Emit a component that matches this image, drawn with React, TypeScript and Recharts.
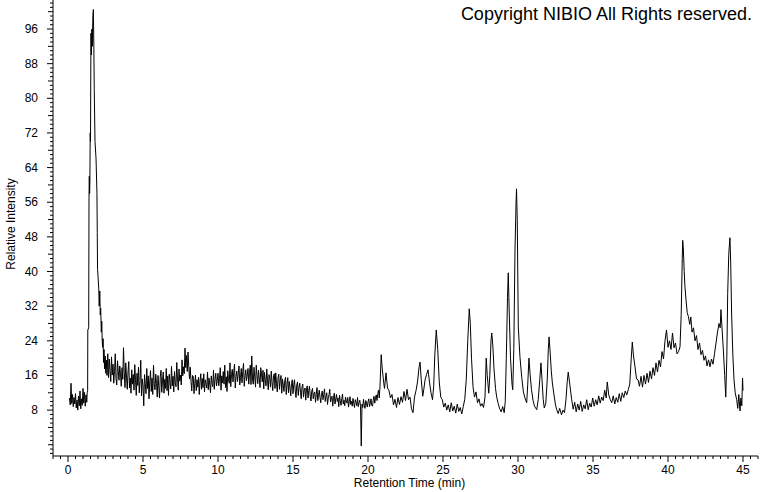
import { LineChart, Line, XAxis, YAxis } from 'recharts'

// retention time (min), relative intensity
const preInjection: [number, number][] = [
  [0.1, 10.8], [0.15, 9.2], [0.2, 14.2], [0.25, 9.5], [0.3, 11.6], [0.35, 8.8], [0.4, 10.9], [0.45, 9.4],
  [0.5, 11.8], [0.55, 8.5], [0.6, 10.3], [0.65, 8.0], [0.7, 11.2], [0.75, 9.0], [0.8, 12.4], [0.85, 8.3],
  [0.9, 10.6], [0.95, 9.1], [1.0, 13.0], [1.05, 9.6], [1.1, 12.1], [1.15, 8.9], [1.2, 11.5], [1.25, 9.8],
  [1.28, 12.0],
]

const solventPeak: [number, number][] = [
  [1.31, 12.5], [1.32, 26.5], [1.38, 27], [1.4, 57], [1.42, 62], [1.44, 58], [1.46, 61], [1.48, 72],
  [1.5, 70], [1.53, 95], [1.56, 90], [1.59, 96], [1.62, 92], [1.66, 99], [1.69, 100.5], [1.72, 93],
  [1.75, 82], [1.8, 70], [1.87, 66], [1.93, 58], [1.95, 49], [1.97, 40.5], [2.0, 39], [2.05, 36],
  [2.08, 32], [2.12, 35.5], [2.15, 30], [2.18, 31.5], [2.22, 26], [2.25, 28.5], [2.28, 24], [2.31, 22.5],
  [2.34, 24.5], [2.37, 19], [2.4, 22], [2.44, 17.5], [2.48, 20.5], [2.52, 16.5], [2.56, 19.5], [2.6, 16],
  [2.65, 21],
]

const earlyBaseline: [number, number][] = [
  [2.7, 15.5], [2.75, 19.8], [2.8, 17.2], [2.85, 14.6], [2.9, 20.3], [2.95, 16.1],
  [3.0, 18.6], [3.05, 14.2], [3.1, 16.9], [3.15, 21.0], [3.2, 15.3], [3.25, 13.8], [3.3, 19.4], [3.35, 17.0],
  [3.4, 14.9], [3.45, 18.2], [3.5, 16.4], [3.55, 13.5], [3.6, 17.8], [3.65, 15.1], [3.7, 22.4], [3.75, 16.7],
  [3.8, 13.2], [3.85, 18.9], [3.9, 15.6], [3.95, 12.8],
  [4.0, 16.8], [4.05, 19.2], [4.1, 13.1], [4.15, 15.4], [4.2, 11.9], [4.25, 17.3], [4.3, 14.0], [4.35, 16.2],
  [4.4, 12.6], [4.45, 18.5], [4.5, 15.0], [4.55, 11.4], [4.6, 16.5], [4.65, 13.7], [4.7, 17.9], [4.75, 12.0],
  [4.8, 14.8], [4.85, 19.5], [4.9, 11.3], [4.95, 15.2],
  [5.0, 13.6], [5.05, 9.0], [5.1, 16.2], [5.15, 14.1], [5.2, 11.8], [5.25, 17.6], [5.3, 13.0], [5.35, 15.9],
  [5.4, 10.6], [5.45, 14.5], [5.5, 17.1], [5.55, 12.3], [5.6, 15.4], [5.65, 11.6], [5.7, 18.4], [5.75, 13.8],
  [5.8, 12.7], [5.85, 16.3], [5.9, 14.2], [5.95, 11.0],
  [6.0, 16.0], [6.05, 13.4], [6.1, 10.8], [6.15, 15.7], [6.2, 17.2], [6.25, 12.1], [6.3, 14.9], [6.35, 16.8],
  [6.4, 11.9], [6.45, 15.1], [6.5, 13.0], [6.55, 17.6], [6.6, 12.5], [6.65, 15.9], [6.7, 11.4], [6.75, 16.3],
  [6.8, 14.4], [6.85, 12.9], [6.9, 18.1], [6.95, 13.6],
  [7.0, 15.8], [7.05, 12.2], [7.1, 16.9], [7.15, 14.3], [7.2, 13.4], [7.25, 19.0], [7.3, 15.2], [7.35, 12.6],
  [7.4, 17.5], [7.45, 14.7], [7.5, 16.1], [7.55, 13.8], [7.6, 19.6], [7.65, 15.9], [7.7, 18.0], [7.75, 16.4],
  [7.8, 22.3], [7.85, 17.8], [7.9, 20.6], [7.95, 16.9],
  [8.0, 21.4], [8.05, 18.2], [8.1, 15.2], [8.15, 17.9], [8.2, 14.6], [8.25, 12.4], [8.3, 16.0], [8.35, 15.8],
  [8.4, 11.8], [8.45, 14.2], [8.5, 16.1], [8.55, 12.5], [8.6, 15.0], [8.65, 13.3], [8.7, 15.6], [8.75, 11.6],
  [8.8, 14.6], [8.85, 16.4], [8.9, 12.8], [8.95, 15.3],
  [9.0, 13.2], [9.05, 16.4], [9.1, 12.2], [9.15, 15.0], [9.2, 14.1], [9.25, 13.1], [9.3, 16.8], [9.35, 12.7],
  [9.4, 15.4], [9.45, 14.0],
]

const driftBaseline: [number, number][] = [
  [9.5, 12.0], [9.55, 15.9], [9.6, 14.2], [9.65, 13.4], [9.7, 17.2], [9.75, 12.8], [9.8, 15.1], [9.85, 16.5],
  [9.9, 13.6], [9.95, 14.8],
  [10.0, 16.5], [10.05, 13.6], [10.1, 15.3], [10.15, 17.8], [10.2, 12.6], [10.25, 15.9], [10.3, 14.3], [10.35, 16.9],
  [10.4, 14.0], [10.45, 18.4], [10.5, 13.2], [10.55, 15.7], [10.6, 12.3], [10.65, 17.1], [10.7, 15.0], [10.75, 14.2],
  [10.8, 18.9], [10.85, 13.4], [10.9, 16.2], [10.95, 17.4],
  [11.0, 14.5], [11.05, 16.8], [11.1, 18.6], [11.15, 13.1], [11.2, 15.8], [11.25, 17.0], [11.3, 14.6], [11.35, 16.4],
  [11.4, 18.2], [11.45, 13.8], [11.5, 15.5], [11.55, 17.6], [11.6, 14.3], [11.65, 16.9], [11.7, 18.8], [11.75, 13.5],
  [11.8, 15.9], [11.85, 17.3], [11.9, 14.8], [11.95, 16.1],
  [12.0, 17.6], [12.05, 14.0], [12.1, 16.5], [12.15, 18.4], [12.2, 13.9], [12.25, 20.5], [12.3, 15.2], [12.35, 14.0],
  [12.4, 17.9], [12.45, 15.6], [12.5, 13.3], [12.55, 18.4], [12.6, 16.0], [12.65, 14.1], [12.7, 17.2], [12.75, 15.4],
  [12.8, 13.2], [12.85, 17.8], [12.9, 16.3], [12.95, 14.5],
  [13.0, 17.2], [13.05, 12.9], [13.1, 16.7], [13.15, 15.0], [13.2, 13.6], [13.25, 17.5], [13.3, 14.8], [13.35, 12.7],
  [13.4, 16.2], [13.45, 15.3], [13.5, 13.3], [13.55, 17.0], [13.6, 14.4], [13.65, 12.5], [13.7, 15.9], [13.75, 16.4],
  [13.8, 13.0], [13.85, 16.6], [13.9, 14.2], [13.95, 12.2],
  [14.0, 15.4], [14.05, 16.3], [14.1, 12.8], [14.15, 14.9], [14.2, 16.0], [14.25, 11.9], [14.3, 15.2], [14.35, 13.8],
  [14.4, 12.3], [14.45, 14.8], [14.5, 15.6], [14.55, 11.6], [14.6, 14.0], [14.65, 15.5], [14.7, 12.0], [14.75, 14.6],
  [14.8, 13.1], [14.85, 11.3], [14.9, 14.1], [14.95, 15.0],
  [15.0, 11.8], [15.05, 13.9], [15.1, 15.0], [15.15, 12.4], [15.2, 10.9], [15.25, 13.8], [15.3, 14.5], [15.35, 11.4],
  [15.4, 13.2], [15.45, 14.2], [15.5, 12.0], [15.55, 10.6], [15.6, 13.4], [15.65, 14.0], [15.7, 11.0], [15.75, 12.6],
  [15.8, 13.1], [15.85, 10.3], [15.9, 12.9], [15.95, 13.6],
  [16.0, 10.8], [16.05, 12.5], [16.1, 13.5], [16.15, 11.2], [16.2, 10.1], [16.25, 12.4], [16.3, 13.0], [16.35, 10.6],
  [16.4, 11.8], [16.45, 12.2], [16.5, 9.8], [16.55, 11.6], [16.6, 13.2], [16.65, 10.2], [16.7, 11.4], [16.75, 12.6],
  [16.8, 10.9], [16.85, 9.7], [16.9, 11.8], [16.95, 12.4],
  [17.0, 10.4], [17.05, 11.6], [17.1, 12.9], [17.15, 10.0], [17.2, 11.2], [17.25, 12.0], [17.3, 9.3], [17.35, 10.8],
  [17.4, 11.5], [17.45, 12.8], [17.5, 9.9], [17.55, 10.6], [17.6, 11.2], [17.65, 8.9], [17.7, 10.9], [17.75, 11.9],
  [17.8, 9.4], [17.85, 10.6], [17.9, 11.6], [17.95, 10.0],
  [18.0, 10.8], [18.05, 8.8], [18.1, 11.4], [18.15, 10.2], [18.2, 9.1], [18.25, 10.6], [18.3, 11.7], [18.35, 9.4],
  [18.4, 10.3], [18.45, 9.0], [18.5, 11.0], [18.55, 10.1], [18.6, 9.6], [18.65, 10.9], [18.7, 8.7], [18.75, 9.9],
  [18.8, 11.1], [18.85, 9.3], [18.9, 10.0], [18.95, 8.9],
  [19.0, 10.7], [19.05, 9.5], [19.1, 8.6], [19.15, 10.4], [19.2, 9.8], [19.25, 9.0], [19.3, 10.9], [19.35, 8.8],
  [19.4, 9.7], [19.45, 10.3], [19.5, 9.0], [19.55, -0.3],
  [19.6, 9.4], [19.65, 8.6], [19.7, 10.5], [19.75, 9.2], [19.8, 8.4], [19.85, 10.2], [19.9, 9.6], [19.95, 8.7],
  [20.0, 9.9], [20.05, 10.6], [20.1, 8.8], [20.15, 9.5], [20.2, 10.6], [20.25, 9.1], [20.3, 8.9], [20.35, 10.3],
  [20.4, 11.2], [20.45, 9.6], [20.5, 10.8], [20.55, 11.5], [20.6, 10.2], [20.65, 11.8], [20.7, 12.6], [20.75, 10.8],
]

const peakCluster: [number, number][] = [
  [20.8, 13.5], [20.88, 20.8], [20.95, 17.5], [21.05, 14.2], [21.1, 13.0], [21.2, 16.6], [21.3, 13.1], [21.4, 12.5],
  [21.5, 10.8], [21.6, 11.6], [21.7, 9.2], [21.8, 10.5], [21.9, 8.6], [22.0, 10.9], [22.1, 9.3], [22.2, 11.1],
  [22.3, 9.8], [22.4, 12.3], [22.5, 10.2], [22.6, 12.8], [22.7, 10.4], [22.8, 11.0], [22.9, 8.3], [23.0, 7.4],
  [23.1, 11.0], [23.2, 12.5], [23.3, 14.5], [23.4, 17.8], [23.47, 19.1], [23.55, 15.0], [23.65, 11.2], [23.72, 12.8],
  [23.8, 14.9], [23.9, 16.2], [24.0, 17.3], [24.1, 14.5], [24.2, 12.0], [24.3, 10.4], [24.38, 13.5], [24.45, 20.5],
  [24.55, 26.5], [24.65, 22.0], [24.75, 14.5], [24.85, 11.0], [24.95, 10.4], [25.05, 8.7], [25.15, 9.6], [25.25, 8.0],
  [25.35, 9.2], [25.45, 7.6], [25.55, 9.7], [25.65, 7.8], [25.75, 8.9], [25.85, 7.3], [25.95, 9.4], [26.05, 7.7],
  [26.15, 8.6], [26.25, 7.1], [26.35, 8.8], [26.45, 10.5], [26.55, 15.0], [26.65, 24.0], [26.75, 31.4], [26.82, 28.0],
  [26.9, 20.0], [27.0, 13.4], [27.1, 11.0], [27.2, 12.2], [27.3, 9.7], [27.4, 10.6], [27.5, 8.9], [27.6, 9.5],
  [27.7, 8.6], [27.8, 11.0], [27.88, 20.0], [27.95, 16.0], [28.05, 11.9], [28.12, 16.0], [28.2, 24.0], [28.25, 25.8],
  [28.32, 23.0], [28.4, 17.5], [28.5, 13.0], [28.58, 11.0], [28.68, 9.5], [28.78, 8.3], [28.88, 7.6], [28.98, 8.8],
  [29.08, 7.4], [29.15, 10.0], [29.22, 20.0], [29.3, 34.0], [29.35, 39.7], [29.42, 30.0], [29.5, 20.0], [29.6, 14.0],
  [29.65, 12.7], [29.72, 22.0], [29.8, 45.0], [29.87, 56.0], [29.9, 59.1], [29.95, 52.0], [30.02, 27.2], [30.13, 20.3],
  [30.25, 15.5], [30.36, 12.2], [30.48, 10.6], [30.58, 9.7], [30.65, 14.0], [30.73, 20.0], [30.8, 16.5], [30.9, 12.7],
  [31.0, 10.3], [31.1, 8.9], [31.25, 8.1], [31.35, 10.5], [31.45, 15.0], [31.53, 18.9], [31.6, 15.0], [31.68, 10.5],
  [31.75, 8.5], [31.85, 9.5], [31.95, 15.0], [32.02, 22.0], [32.07, 24.9], [32.15, 21.0], [32.22, 17.0], [32.29, 14.3],
  [32.4, 11.5], [32.5, 9.2], [32.58, 8.1], [32.68, 7.2], [32.78, 8.4], [32.9, 6.9], [33.0, 8.0], [33.1, 7.4],
  [33.2, 10.5],
]

const lateRise: [number, number][] = [
  [33.28, 14.5], [33.35, 16.8], [33.45, 14.0], [33.58, 10.4], [33.68, 8.2], [33.78, 9.8], [33.88, 7.6], [33.98, 9.4],
  [34.08, 8.0], [34.18, 10.0], [34.28, 7.7], [34.38, 9.2], [34.48, 8.3], [34.58, 10.4], [34.68, 8.1], [34.78, 9.6],
  [34.88, 8.7], [34.98, 10.8], [35.08, 8.9], [35.18, 10.4], [35.28, 9.2], [35.38, 11.3], [35.48, 9.6], [35.58, 11.0],
  [35.68, 10.2], [35.78, 12.6], [35.88, 10.8], [35.95, 14.5], [36.05, 11.5], [36.15, 10.4], [36.25, 9.7], [36.35, 11.3],
  [36.45, 9.4], [36.55, 10.9], [36.65, 9.8], [36.75, 11.8], [36.85, 10.0], [36.95, 12.0], [37.05, 10.9], [37.15, 12.4],
  [37.25, 11.5], [37.35, 12.7], [37.45, 14.0], [37.55, 20.0], [37.62, 23.7], [37.7, 20.5], [37.8, 18.0], [37.9, 15.2],
  [38.0, 15.0], [38.1, 13.5], [38.2, 15.8], [38.3, 13.3], [38.4, 16.0], [38.5, 14.0], [38.6, 16.5], [38.7, 14.4],
  [38.8, 17.0], [38.9, 15.2], [39.0, 17.8], [39.1, 16.0], [39.2, 18.9], [39.3, 16.8], [39.4, 19.5], [39.5, 18.0],
  [39.6, 21.5], [39.7, 19.8], [39.8, 24.0], [39.9, 26.5], [40.0, 22.5], [40.1, 24.0], [40.2, 22.0], [40.3, 25.8],
  [40.4, 22.4], [40.5, 23.5], [40.6, 21.0], [40.7, 21.5], [40.8, 22.6], [40.88, 30.0], [40.95, 43.0], [40.98, 47.2],
  [41.02, 45.5], [41.08, 40.0], [41.13, 36.5], [41.2, 33.5], [41.28, 30.5], [41.36, 29.6], [41.45, 27.8], [41.52, 29.5],
  [41.6, 26.0], [41.7, 27.0], [41.8, 24.0], [41.9, 25.2], [42.0, 22.0], [42.1, 23.5], [42.2, 20.8], [42.3, 21.8],
  [42.4, 19.5], [42.5, 20.5], [42.6, 18.2], [42.7, 19.6], [42.8, 18.0], [42.9, 19.8], [43.0, 18.6], [43.1, 21.0],
  [43.2, 23.5], [43.3, 26.0], [43.4, 28.0], [43.48, 27.0], [43.53, 31.2], [43.6, 27.0], [43.69, 21.9], [43.78, 16.0],
  [43.85, 11.0], [43.92, 20.0], [43.98, 35.0], [44.05, 44.0], [44.13, 47.8], [44.18, 42.0], [44.24, 30.4], [44.32, 21.0],
  [44.4, 15.0], [44.48, 12.0], [44.58, 10.4], [44.65, 8.4], [44.72, 11.6], [44.8, 7.8], [44.86, 10.8], [44.92, 9.0],
  [44.97, 15.4], [45.0, 12.5],
]

const xLabelTicks = [0, 5, 10, 15, 20, 25, 30, 35, 40, 45]
const yLabelTicks = [8, 16, 24, 32, 40, 48, 56, 64, 72, 80, 88, 96]
const xMinorTicks = Array.from({ length: 95 }, (_, i) => -1 + i * 0.5)
const yMinorTicks = Array.from({ length: 105 }, (_, i) => i - 2)

const data = [...preInjection, ...solventPeak, ...earlyBaseline, ...driftBaseline, ...peakCluster, ...lateRise]
  .map(([t, v]) => ({ t, v }))

const FONT = '"Liberation Sans", Arial, sans-serif'

function XTick(props: any) {
  const { x, y, payload } = props
  const v = payload.value
  const major = xLabelTicks.includes(v)
  return (
    <g>
      <line x1={x} x2={x} y1={y} y2={y + (major ? 6 : 3)} stroke="#000" />
      {major && (
        <text x={x} y={y + 18} textAnchor="middle" fontSize={12} fill="#000" fontFamily={FONT}>
          {v}
        </text>
      )}
    </g>
  )
}

function YTick(props: any) {
  const { x, y, payload } = props
  const v = payload.value
  const labelled = yLabelTicks.includes(v)
  const len = labelled ? 6 : v % 4 === 0 ? 5 : 3
  return (
    <g>
      <line x1={x - len} x2={x} y1={y} y2={y} stroke="#000" />
      {labelled && (
        <text x={x - 15} y={y + 4} textAnchor="end" fontSize={12} fill="#000" fontFamily={FONT}>
          {v}
        </text>
      )}
    </g>
  )
}

export default function App() {
  return (
    <div style={{ position: 'absolute', left: 0, top: 0, width: 760, height: 492, background: '#fff', fontFamily: FONT }}>
      <LineChart width={760} height={492} data={data} margin={{ top: 0, right: 2, bottom: 0, left: 0 }}>
        <XAxis
          dataKey="t"
          type="number"
          domain={[-1, 46]}
          allowDataOverflow
          ticks={xMinorTicks}
          interval={0}
          tick={<XTick />}
          tickLine={false}
          tickSize={0}
          tickMargin={0}
          height={36}
          axisLine={{ stroke: '#000' }}
          label={{ value: 'Retention Time (min)', position: 'insideBottom', offset: 5, dx: 4, fill: '#000', fontSize: 12 }}
        />
        <YAxis
          type="number"
          domain={[-2.6, 102.7]}
          allowDataOverflow
          ticks={yMinorTicks}
          interval={0}
          tick={<YTick />}
          tickLine={false}
          tickSize={0}
          tickMargin={0}
          width={53}
          axisLine={{ stroke: '#000' }}
          label={{
            value: 'Relative Intensity',
            angle: -90,
            position: 'insideLeft',
            offset: 11,
            dy: -4,
            fill: '#000',
            fontSize: 12,
            style: { textAnchor: 'middle' },
          }}
        />
        <Line
          type="linear"
          dataKey="v"
          stroke="#000"
          strokeWidth={1}
          dot={false}
          isAnimationActive={false}
        />
      </LineChart>
      <div
        style={{
          position: 'absolute',
          top: 5,
          right: 8,
          fontSize: 18,
          lineHeight: '18px',
          color: '#000',
          whiteSpace: 'nowrap',
        }}
      >
        Copyright NIBIO All Rights reserved.
      </div>
    </div>
  )
}
